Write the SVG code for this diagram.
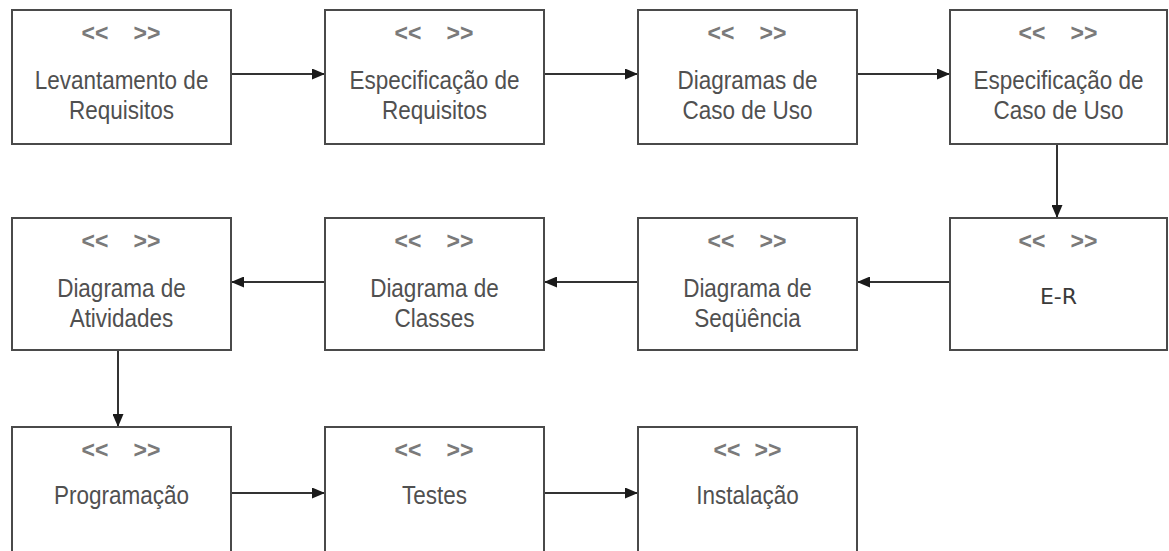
<svg xmlns="http://www.w3.org/2000/svg" width="1169" height="551" viewBox="0 0 1169 551">
<style>
.box{fill:#fff;stroke:#4a4a4a;stroke-width:2}
.st{font-family:"Liberation Sans",Arial,sans-serif;font-size:23px;fill:#7a7a7a;text-anchor:middle;font-weight:bold}
.lb{font-family:"Liberation Sans",Arial,sans-serif;font-size:25px;fill:#505050;text-anchor:middle}
.er{font-family:"DejaVu Sans",sans-serif;font-size:22px;fill:#3a3a3a;text-anchor:middle}
.cn{stroke:#333;stroke-width:2;fill:none;marker-end:url(#ah)}
</style>
<defs>
<marker id="ah" viewBox="0 0 13 11" refX="13" refY="5.5" markerWidth="13" markerHeight="11" markerUnits="userSpaceOnUse" orient="auto">
<path d="M0,0 L13,5.5 L0,11 z" fill="#1a1a1a"/>
</marker>
</defs>
<rect width="1169" height="551" fill="#fff"/>
<g id="connectors">
<line class="cn" x1="231" y1="74" x2="325" y2="74"/>
<line class="cn" x1="544" y1="74" x2="638" y2="74"/>
<line class="cn" x1="857" y1="74" x2="950" y2="74"/>
<line class="cn" x1="1057" y1="144" x2="1057" y2="218"/>
<line class="cn" x1="950" y1="282" x2="857" y2="282"/>
<line class="cn" x1="638" y1="282" x2="544" y2="282"/>
<line class="cn" x1="325" y1="282" x2="231" y2="282"/>
<line class="cn" x1="118" y1="350" x2="118" y2="427"/>
<line class="cn" x1="231" y1="493" x2="325" y2="493"/>
<line class="cn" x1="544" y1="493" x2="638" y2="493"/>
</g>
<g id="n1">
<rect class="box" x="12" y="10" width="219" height="134"/>
<text class="st" x="95" y="41">&lt;&lt;</text><text class="st" x="147" y="41">&gt;&gt;</text>
<text class="lb" transform="translate(121.5,89) scale(0.9,1)">Levantamento de</text>
<text class="lb" transform="translate(121.5,119) scale(0.9,1)">Requisitos</text>
</g>
<g id="n2">
<rect class="box" x="325" y="10" width="219" height="134"/>
<text class="st" x="408" y="41">&lt;&lt;</text><text class="st" x="460" y="41">&gt;&gt;</text>
<text class="lb" transform="translate(434.5,89) scale(0.9,1)">Especificação de</text>
<text class="lb" transform="translate(434.5,119) scale(0.9,1)">Requisitos</text>
</g>
<g id="n3">
<rect class="box" x="638" y="10" width="219" height="134"/>
<text class="st" x="721" y="41">&lt;&lt;</text><text class="st" x="773" y="41">&gt;&gt;</text>
<text class="lb" transform="translate(747.5,89) scale(0.9,1)">Diagramas de</text>
<text class="lb" transform="translate(747.5,119) scale(0.9,1)">Caso de Uso</text>
</g>
<g id="n4">
<rect class="box" x="950" y="10" width="217" height="134"/>
<text class="st" x="1032" y="41">&lt;&lt;</text><text class="st" x="1084" y="41">&gt;&gt;</text>
<text class="lb" transform="translate(1058.5,89) scale(0.9,1)">Especificação de</text>
<text class="lb" transform="translate(1058.5,119) scale(0.9,1)">Caso de Uso</text>
</g>
<g id="n5">
<rect class="box" x="950" y="218" width="217" height="132"/>
<text class="st" x="1032" y="249">&lt;&lt;</text><text class="st" x="1084" y="249">&gt;&gt;</text>
<text class="er" x="1058.5" y="304">E-R</text>
</g>
<g id="n6">
<rect class="box" x="638" y="218" width="219" height="132"/>
<text class="st" x="721" y="249">&lt;&lt;</text><text class="st" x="773" y="249">&gt;&gt;</text>
<text class="lb" transform="translate(747.5,297) scale(0.9,1)">Diagrama de</text>
<text class="lb" transform="translate(747.5,327) scale(0.9,1)">Seqüência</text>
</g>
<g id="n7">
<rect class="box" x="325" y="218" width="219" height="132"/>
<text class="st" x="408" y="249">&lt;&lt;</text><text class="st" x="460" y="249">&gt;&gt;</text>
<text class="lb" transform="translate(434.5,297) scale(0.9,1)">Diagrama de</text>
<text class="lb" transform="translate(434.5,327) scale(0.9,1)">Classes</text>
</g>
<g id="n8">
<rect class="box" x="12" y="218" width="219" height="132"/>
<text class="st" x="95" y="249">&lt;&lt;</text><text class="st" x="147" y="249">&gt;&gt;</text>
<text class="lb" transform="translate(121.5,297) scale(0.9,1)">Diagrama de</text>
<text class="lb" transform="translate(121.5,327) scale(0.9,1)">Atividades</text>
</g>
<g id="n9">
<rect class="box" x="12" y="427" width="219" height="134"/>
<text class="st" x="95" y="458">&lt;&lt;</text><text class="st" x="147" y="458">&gt;&gt;</text>
<text class="lb" transform="translate(121.5,504) scale(0.9,1)">Programação</text>
</g>
<g id="n10">
<rect class="box" x="325" y="427" width="219" height="134"/>
<text class="st" x="408" y="458">&lt;&lt;</text><text class="st" x="460" y="458">&gt;&gt;</text>
<text class="lb" transform="translate(434.5,504) scale(0.9,1)">Testes</text>
</g>
<g id="n11">
<rect class="box" x="638" y="427" width="219" height="134"/>
<text class="st" x="727" y="458">&lt;&lt;</text><text class="st" x="768" y="458">&gt;&gt;</text>
<text class="lb" transform="translate(747.5,504) scale(0.9,1)">Instalação</text>
</g>
</svg>
